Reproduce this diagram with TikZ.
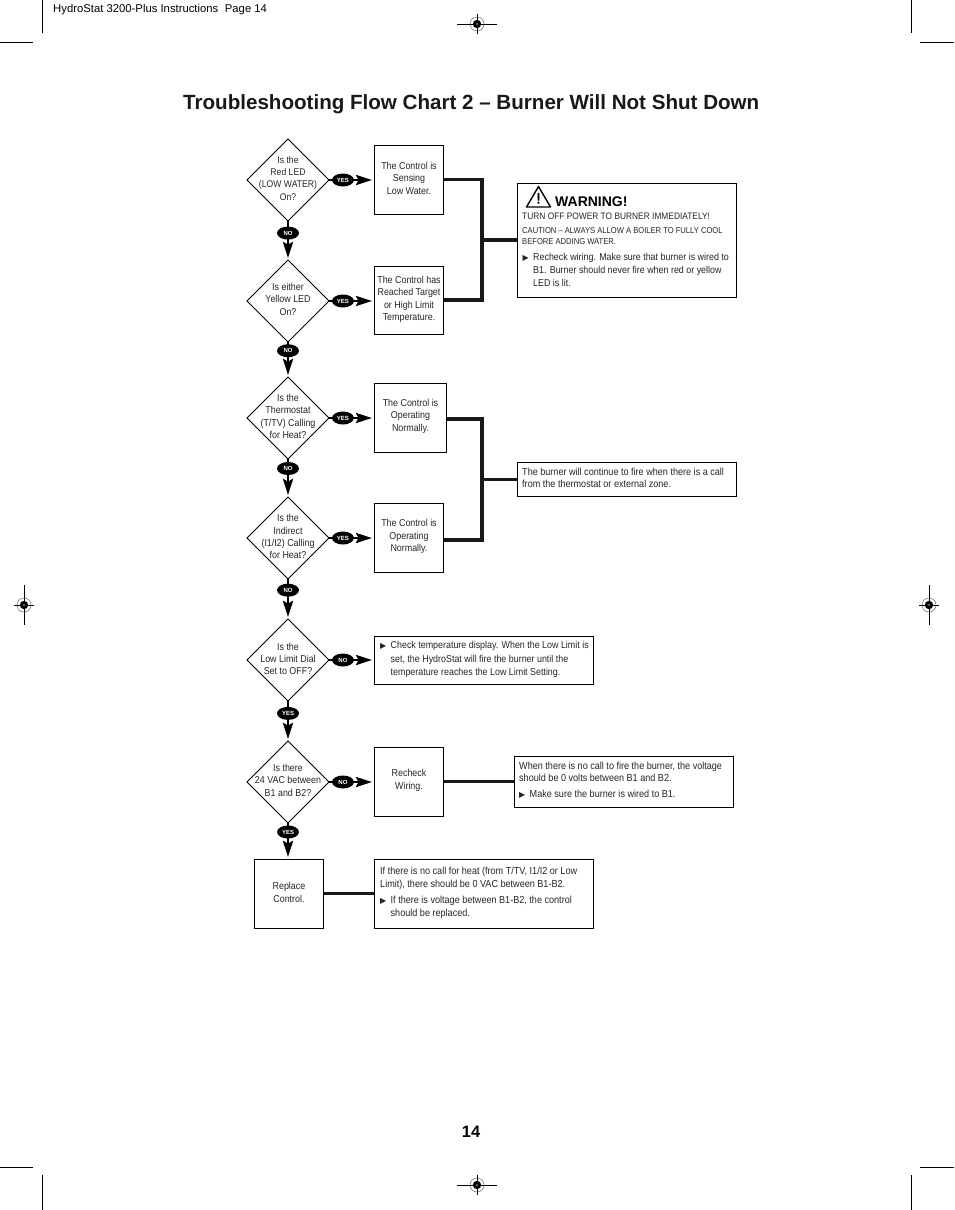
\documentclass[tikz,border=0pt]{standalone}
\usepackage{fontspec}
\setmainfont{Liberation Sans}
\newfontfamily\cond[FakeStretch=0.89]{Liberation Sans}
\newfontfamily\heavy[FakeBold=2.5]{Liberation Sans}
\newfontfamily\dejavu{DejaVu Sans}
\usetikzlibrary{shapes.geometric,arrows.meta}
\newcommand{\blt}{\makebox[10.5pt][l]{\dejavu\fontsize{8}{8}\selectfont ▶}}
\newcommand{\ind}{\hspace*{10.5pt}}
\tikzset{
  dia/.style={draw=black,line width=1pt,diamond,aspect=1,inner sep=0pt,outer sep=0pt,minimum width=82pt,minimum height=82pt},
  box/.style={draw=black,line width=1pt,rectangle,inner sep=0pt,outer sep=0pt},
  txt/.style={font=\cond\fontsize{10}{12.3}\selectfont,align=center,inner sep=0pt,text=black!85},
  ltxt/.style={font=\cond\fontsize{10.2}{12.6}\selectfont,align=left,inner sep=0pt,anchor=north west,text=black!85},
  pill/.style={fill=black,ellipse,inner sep=0pt,minimum width=22pt,minimum height=13pt,text=white,font=\fontsize{6}{6}\bfseries\selectfont},
  flow/.style={line width=2.7pt,-{Stealth[length=16pt,width=10pt,inset=2.5pt]},shorten >=2pt},
  trunk/.style={line width=3.4pt,black!90},
  crop/.style={line width=1pt,black},
}
\begin{document}
\begin{tikzpicture}[x=1pt,y=-1pt]
\path[use as bounding box,fill=white] (0,0) rectangle (954,1210);
% crop marks
\foreach \xa/\xb/\xc/\xd in {0/33/42/42,920/954/911.5/911.5}{
  \draw[crop] (\xa,42.5) -- (\xb,42.5);
  \draw[crop] (\xc,0) -- (\xd,33);
  \draw[crop] (\xa,1167.5) -- (\xb,1167.5);
  \draw[crop] (\xc,1175) -- (\xd,1210);
}
% registration marks
\foreach \cx/\cy/\hl/\vl in {477/24/20/10,477/1185/20/10,24/605/10/20,929/605/10/20}{
  \draw[line width=.8pt] (\cx-\hl,\cy) -- (\cx+\hl,\cy) (\cx,\cy-\vl) -- (\cx,\cy+\vl);
  \draw[line width=.4pt,black!70] (\cx,\cy) circle (7);
  \fill[black] (\cx,\cy) circle (4.2);
  \fill[white!55!black] (\cx,\cy) circle (1);
}
% header, title, page number
\node[anchor=base west,inner sep=0pt,font=\fontsize{11.3}{12}\selectfont] (hdr) at (53,12) {HydroStat 3200-Plus Instructions\hspace{3.4pt} Page 14};
\node[anchor=base west,inner sep=0pt,font=\fontsize{20.58}{24}\bfseries\selectfont,text=black!90] (title) at (183,109.5) {Troubleshooting Flow Chart 2 – Burner Will Not Shut Down};
\node[anchor=base,inner sep=0pt,font=\fontsize{16.5}{18}\bfseries\selectfont] (pageno) at (471,1137) {14};
% decisions
\node[dia] (d1) at (288,180) {};
\node[dia] (d2) at (288,301) {};
\node[dia] (d3) at (288,418) {};
\node[dia] (d4) at (288,538) {};
\node[dia] (d5) at (288,660) {};
\node[dia] (d6) at (288,782) {};
\node[txt,font=\cond\fontsize{9.7}{12.3}\selectfont] (d1t) at (288,178.3) {Is the\\Red LED\\(LOW WATER)\\On?};
\node[txt] (d2t) at (288,299.3) {Is either\\Yellow LED\\On?};
\node[txt] (d3t) at (288,416.3) {Is the\\Thermostat\\(T/TV) Calling\\for Heat?};
\node[txt] (d4t) at (288,536.8) {Is the\\Indirect\\(I1/I2) Calling\\for Heat?};
\node[txt] (d5t) at (288,658.8) {Is the\\Low Limit Dial\\Set to OFF?};
\node[txt] (d6t) at (288,780.3) {Is there\\24 VAC between\\B1 and B2?};
% result boxes
\node[box,minimum width=69.5pt,minimum height=69pt] (b1) at (408.75,179.5) {};
\node[box,minimum width=69.5pt,minimum height=68pt] (b2) at (408.75,300) {};
\node[box,minimum width=72.5pt,minimum height=69pt] (b3) at (410.25,417.5) {};
\node[box,minimum width=69.5pt,minimum height=69pt] (b4) at (408.75,537.5) {};
\node[box,minimum width=219.5pt,minimum height=48pt] (b5) at (483.75,660) {};
\node[box,minimum width=69.5pt,minimum height=69pt] (b6) at (408.75,781.5) {};
\node[box,minimum width=69.5pt,minimum height=69pt] (r) at (288.75,893.5) {};
\node[txt] (b1t) at (409,178.3) {The Control is\\Sensing\\Low Water.};
\node[txt] (b2t) at (409,299.3) {The Control has\\Reached Target\\or High Limit\\Temperature.};
\node[txt] (b3t) at (410.5,416.3) {The Control is\\Operating\\Normally.};
\node[txt] (b4t) at (409,536.5) {The Control is\\Operating\\Normally.};
\node[txt] (b6t) at (409,780.3) {Recheck\\Wiring.};
\node[txt] (rt) at (289,892.3) {Replace\\Control.};
% note boxes
\node[box,minimum width=219pt,minimum height=114pt] (warn) at (626.5,240) {};
\node[box,minimum width=219pt,minimum height=34.5pt] (burn) at (626.5,479.5) {};
\node[box,minimum width=219pt,minimum height=51pt] (volt) at (623.5,781.5) {};
\node[box,minimum width=219.5pt,minimum height=69pt] (note) at (483.75,893.5) {};
% warning content
\draw[line width=1.4pt,line join=round,fill=white] (538.5,186.5) -- (550.5,207) -- (526.5,207) -- cycle;
\node[inner sep=0pt,font=\heavy\fontsize{15}{15}\selectfont] (wexc) at (538.5,198.3) {!};
\node[anchor=base west,inner sep=0pt,font=\fontsize{14}{16}\bfseries\selectfont] (wt) at (555,206) {WARNING!};
\node[ltxt,font=\cond\fontsize{9.4}{12}\selectfont] (w1) at (522,213) {TURN OFF POWER TO BURNER IMMEDIATELY!};
\node[ltxt,font=\cond\fontsize{8.55}{11.3}\selectfont] (w2) at (522,227.5) {CAUTION – ALWAYS ALLOW A BOILER TO FULLY COOL\\BEFORE ADDING WATER.};
\node[ltxt,font=\cond\fontsize{10}{13}\selectfont] (w3) at (522.5,253.5) {\blt Recheck wiring. Make sure that burner is wired to\\\ind B1. Burner should never fire when red or yellow\\\ind LED is lit.};
\node[ltxt] (burnt) at (522,467.5) {The burner will continue to fire when there is a call\\from the thermostat or external zone.};
\node[ltxt,font=\cond\fontsize{10}{13.5}\selectfont] (b5t) at (380,641.5) {\blt Check temperature display. When the Low Limit is\\\ind set, the HydroStat will fire the burner until the\\\ind temperature reaches the Low Limit Setting.};
\node[ltxt] (v1) at (519,761.5) {When there is no call to fire the burner, the voltage\\should be 0 volts between B1 and B2.};
\node[ltxt] (v2) at (519,789.5) {\blt Make sure the burner is wired to B1.};
\node[ltxt,font=\cond\fontsize{10.2}{13}\selectfont] (n1) at (380,866.5) {If there is no call for heat (from T/TV, I1/I2 or Low\\Limit), there should be 0 VAC between B1-B2.};
\node[ltxt,font=\cond\fontsize{10.2}{13}\selectfont] (n2) at (380,895.5) {\blt If there is voltage between B1-B2, the control\\\ind should be replaced.};
% flow connectors
\draw[flow] (d1.east) -- node[pill,pos=.31] (p1) {YES} (b1.west |- d1.east);
\draw[flow] (d2.east) -- node[pill,pos=.31] (p2) {YES} (b2.west |- d2.east);
\draw[flow] (d3.east) -- node[pill,pos=.31] (p3) {YES} (b3.west |- d3.east);
\draw[flow] (d4.east) -- node[pill,pos=.31] (p4) {YES} (b4.west |- d4.east);
\draw[flow] (d5.east) -- node[pill,pos=.31] (p5) {NO} (b5.west |- d5.east);
\draw[flow] (d6.east) -- node[pill,pos=.31] (p6) {NO} (b6.west |- d6.east);
\draw[flow] (d1.south) -- node[pill,pos=.31] (p7) {NO} (d2.north);
\draw[flow] (d2.south) -- node[pill,pos=.25] (p8) {NO} (d3.north);
\draw[flow] (d3.south) -- node[pill,pos=.25] (p9) {NO} (d4.north);
\draw[flow] (d4.south) -- node[pill,pos=.28] (p10) {NO} (d5.north);
\draw[flow] (d5.south) -- node[pill,pos=.31] (p11) {YES} (d6.north);
\draw[flow] (d6.south) -- node[pill,pos=.25] (p12) {YES} (r.north -| d6.south);
% trunk connectors
\coordinate (j1) at (482,240);
\coordinate (j2) at (482,479.5);
\draw[trunk] (b1.east) -| (j1) |- (b2.east);
\draw[trunk] (j1) -- (warn.west);
\draw[trunk] (b3.east |- 0,419) -| (j2) |- (b4.east |- 0,540);
\draw[trunk] (j2) -- (burn.west);
\draw[trunk] (b6.east) -- (volt.west |- b6.east);
\draw[trunk] (r.east) -- (note.west);
\end{tikzpicture}
\end{document}
